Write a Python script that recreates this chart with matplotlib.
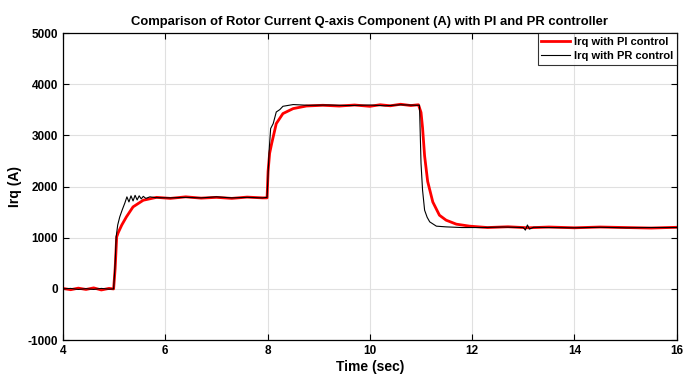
import matplotlib.pyplot as plt

# Irq with PI control (red)
t_pi = [4.0, 4.15, 4.3, 4.45, 4.6, 4.75, 4.9, 4.99, 5.02, 5.05, 5.08, 5.15,
        5.24, 5.37, 5.57, 5.83, 6.1, 6.4, 6.7, 7.0, 7.3, 7.6, 7.9, 7.99,
        8.01, 8.04, 8.08, 8.17, 8.30, 8.50, 8.76, 9.08, 9.4, 9.7, 10.0,
        10.2, 10.4, 10.6, 10.8, 10.95, 11.0, 11.03, 11.07, 11.13, 11.23,
        11.36, 11.49, 11.69, 11.95, 12.3, 12.7, 13.1, 13.5, 14.0, 14.5,
        15.0, 15.5, 16.0]
i_pi = [10, -15, 15, -10, 20, -20, 10, 0, 400, 1017, 1100, 1250,
        1408, 1604, 1734, 1790, 1770, 1800, 1775, 1790, 1770, 1795, 1780, 1780,
        2300, 2650, 2842, 3232, 3428, 3525, 3576, 3590, 3575, 3595, 3570,
        3600, 3580, 3610, 3585, 3600, 3450, 3150, 2600, 2100, 1700,
        1441, 1344, 1266, 1227, 1200, 1215, 1195, 1210, 1195, 1210,
        1200, 1190, 1205]

# Irq with PR control (black)
t_pr = [4.0, 4.15, 4.3, 4.45, 4.6, 4.75, 4.9, 4.99, 5.02, 5.04, 5.07, 5.11,
        5.16, 5.21, 5.25, 5.29, 5.33, 5.37, 5.41, 5.45, 5.49, 5.53, 5.57,
        5.62, 5.7, 5.8, 6.1, 6.4, 6.7, 7.0, 7.3, 7.6, 7.9, 7.99, 8.03, 8.06,
        8.11, 8.17, 8.24, 8.30, 8.50, 8.8, 9.2, 9.6, 10.0, 10.3, 10.6, 10.9,
        10.97, 11.0, 11.03, 11.07, 11.12, 11.17, 11.3, 11.49, 11.8, 12.2,
        12.6, 13.0, 13.04, 13.08, 13.12, 13.2, 13.5, 14.0, 14.5, 15.0, 15.5,
        16.0]
i_pr = [0, 10, -10, 5, -10, 10, -5, 0, 500, 1017, 1250, 1408,
        1550, 1680, 1800, 1700, 1820, 1720, 1830, 1740, 1820, 1760, 1810,
        1770, 1800, 1785, 1780, 1790, 1780, 1800, 1780, 1790, 1780, 1790,
        2700, 3135, 3232, 3459, 3506, 3570, 3604, 3590, 3595, 3585, 3595,
        3580, 3600, 3590, 3590, 2451, 1930, 1539, 1400, 1311, 1227, 1213,
        1200, 1200, 1210, 1200, 1150, 1250, 1170, 1205, 1200, 1195, 1205,
        1195, 1200, 1200]

plt.rcParams['font.family'] = ['Liberation Sans', 'DejaVu Sans']
plt.rcParams['font.weight'] = 'bold'
plt.rcParams['axes.unicode_minus'] = False

fig = plt.figure(figsize=(6.92, 3.9), dpi=100)
ax = fig.add_axes([0.091, 0.128, 0.887, 0.787])

ax.plot(t_pi, i_pi, color='red', linewidth=2.0, label='Irq with PI control')
ax.plot(t_pr, i_pr, color='black', linewidth=0.8, label='Irq with PR control')

ax.set_xlim(4, 16)
ax.set_ylim(-1000, 5000)
ax.set_xticks([4, 6, 8, 10, 12, 14, 16])
ax.set_yticks([-1000, 0, 1000, 2000, 3000, 4000, 5000])
ax.grid(True, color='#e0e0e0', linewidth=0.8)
ax.tick_params(direction='in', top=True, right=True, labelsize=8.5, length=4)
for lbl in ax.get_xticklabels() + ax.get_yticklabels():
    lbl.set_fontweight('bold')
for s in ax.spines.values():
    s.set_linewidth(0.9)

ax.set_title('Comparison of Rotor Current Q-axis Component (A) with PI and PR controller',
             fontsize=9.4, fontweight='bold', pad=6)
ax.set_xlabel('Time (sec)', fontsize=10, fontweight='bold', labelpad=2)
ax.set_ylabel('Irq (A)', fontsize=10, fontweight='bold')

leg = ax.legend(loc='upper right', fontsize=8, frameon=True, fancybox=False,
                edgecolor='black', borderaxespad=0, handlelength=2.6,
                borderpad=0.35, labelspacing=0.35, handletextpad=0.3)
leg.get_frame().set_linewidth(0.8)

fig.savefig('out.png', dpi=100)
